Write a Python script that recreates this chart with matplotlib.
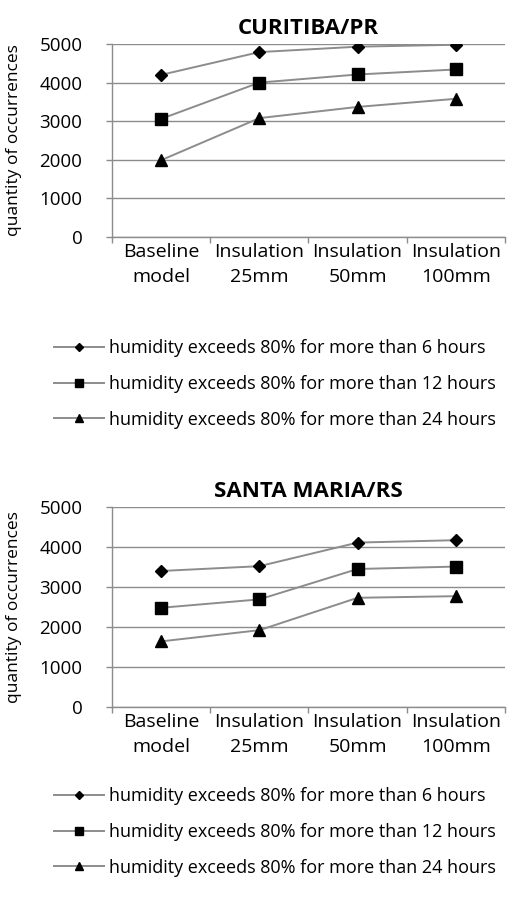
import matplotlib.pyplot as plt
from matplotlib.ticker import FixedLocator

plt.rcParams['font.family'] = ['Open Sans', 'DejaVu Sans']

categories = ["Baseline\nmodel", "Insulation\n25mm", "Insulation\n50mm", "Insulation\n100mm"]
series_labels = ["humidity exceeds 80% for more than 6 hours",
                 "humidity exceeds 80% for more than 12 hours",
                 "humidity exceeds 80% for more than 24 hours"]

# CURITIBA/PR
curitiba_6h = [4200, 4790, 4930, 4980]
curitiba_12h = [3060, 4000, 4210, 4340]
curitiba_24h = [1990, 3080, 3370, 3580]

# SANTA MARIA/RS
santa_maria_6h = [3400, 3520, 4110, 4170]
santa_maria_12h = [2480, 2690, 3450, 3510]
santa_maria_24h = [1640, 1920, 2730, 2770]

markers = [("D", 6), ("s", 9), ("^", 8)]
gray = "#8c8c8c"


def draw(ax, title, data):
    x = list(range(len(categories)))
    handles = []
    for vals, (m, ms), lab in zip(data, markers, series_labels):
        h, = ax.plot(x, vals, color=gray, lw=1.4, marker=m, markersize=ms,
                     markerfacecolor="black", markeredgecolor="black", label=lab)
        handles.append(h)
    ax.set_xlim(-0.5, len(categories) - 0.5)
    ax.set_ylim(0, 5000)
    ax.set_yticks(range(0, 5001, 1000))
    ax.set_xticks(x)
    ax.set_xticklabels(categories, fontsize=14, linespacing=1.5)
    ax.xaxis.set_minor_locator(FixedLocator([i - 0.5 for i in range(len(categories) + 1)]))
    ax.tick_params(axis="x", which="major", length=0, pad=4)
    ax.tick_params(axis="x", which="minor", length=4.3, color=gray, width=1)
    ax.tick_params(axis="y", length=4.3, color=gray, width=1, labelsize=13.5, pad=17)
    ax.grid(axis="y", color=gray, lw=1)
    ax.set_axisbelow(True)
    for s in ["top", "right"]:
        ax.spines[s].set_visible(False)
    for s in ["left", "bottom"]:
        ax.spines[s].set_color(gray)
        ax.spines[s].set_linewidth(1)
    ax.set_title(title, fontsize=16, fontweight="bold", pad=7)
    ax.set_ylabel("quantity of occurrences", fontsize=12.5)
    ax.yaxis.set_label_coords(-0.23, 0.5)
    return handles


fig = plt.figure(figsize=(5.1, 9.05), dpi=100)

ax1 = fig.add_axes([0.2196, 0.7381, 0.7706, 0.2133])
h1 = draw(ax1, "CURITIBA/PR", [curitiba_6h, curitiba_12h, curitiba_24h])
fig.legend(handles=h1, loc="upper left", bbox_to_anchor=(0.092, 0.633),
           frameon=False, fontsize=13, handlelength=2.75, labelspacing=0.98,
           handletextpad=0.3, borderaxespad=0, markerscale=0.7)

ax2 = fig.add_axes([0.2196, 0.2188, 0.7706, 0.221])
h2 = draw(ax2, "SANTA MARIA/RS", [santa_maria_6h, santa_maria_12h, santa_maria_24h])
fig.legend(handles=h2, loc="upper left", bbox_to_anchor=(0.092, 0.138),
           frameon=False, fontsize=13, handlelength=2.75, labelspacing=0.98,
           handletextpad=0.3, borderaxespad=0, markerscale=0.7)

fig.savefig("out.png", dpi=100)
